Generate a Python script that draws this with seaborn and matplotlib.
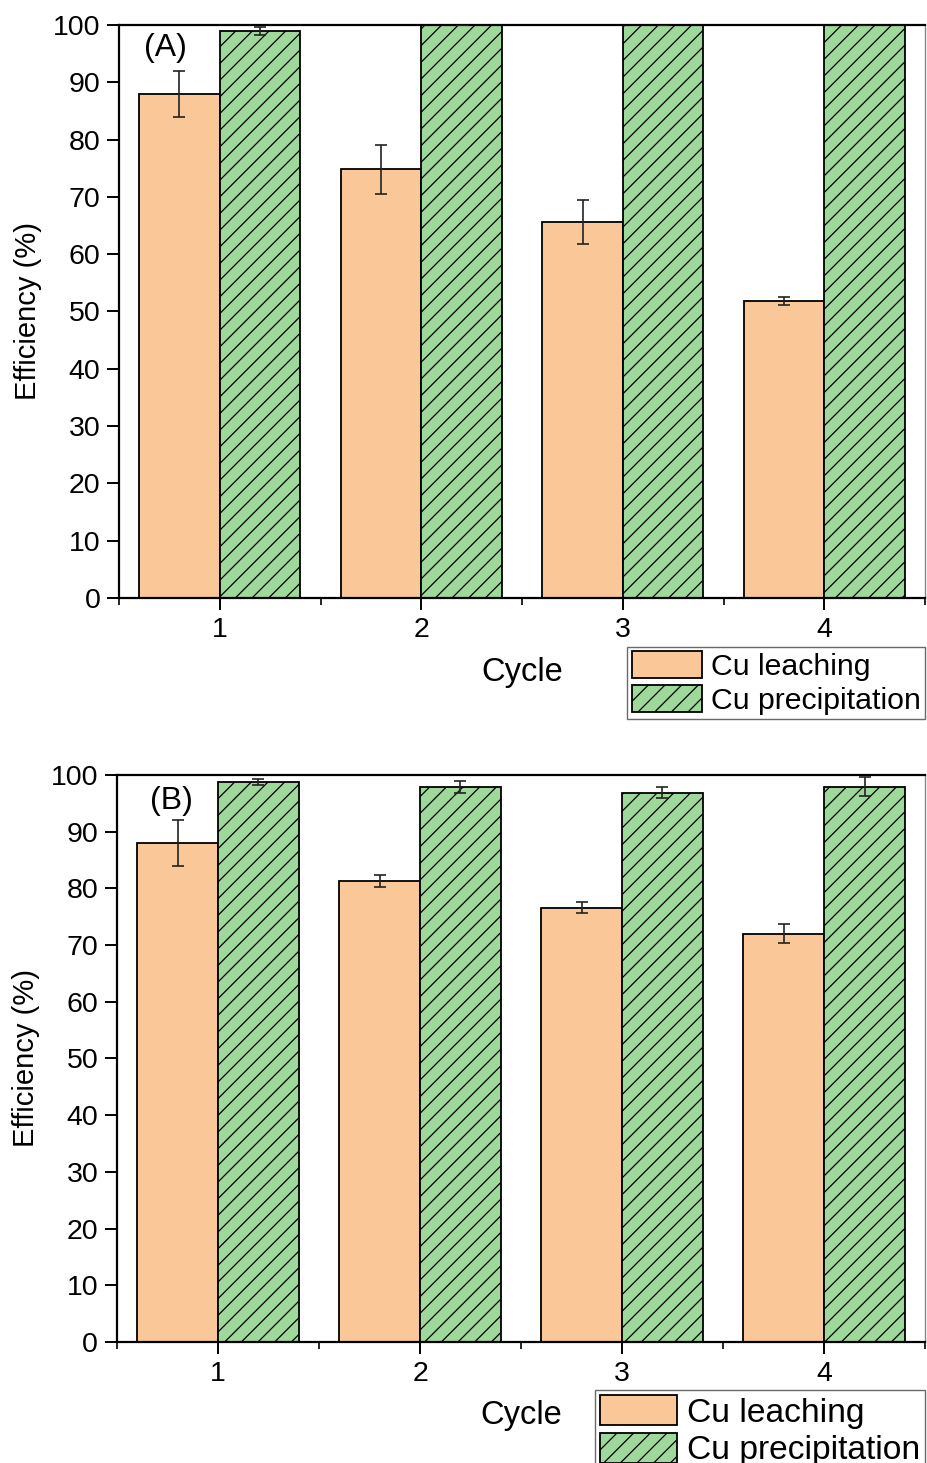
"""
Cu leaching / precipitation efficiency over 4 cycles, panels (A) and (B).
"""

import matplotlib
matplotlib.use("Agg")
import matplotlib.pyplot as plt
import pandas as pd
import seaborn as sns

# values
cycles = ["1", "2", "3", "4"]
series = ["Cu leaching", "Cu precipitation"]

leach_A = [88.0, 74.8, 65.6, 51.8]
leach_A_err = [4.0, 4.3, 3.9, 0.7]
precip_A = [99.0, 100.0, 100.0, 100.0]
precip_A_err = [0.7, 0.0, 0.0, 0.0]

leach_B = [88.0, 81.3, 76.6, 72.0]
leach_B_err = [4.0, 1.1, 0.95, 1.7]
precip_B = [98.8, 97.9, 96.9, 97.9]
precip_B_err = [0.5, 1.05, 0.95, 1.7]

colors = ["#FAC898", "#9ED89B"]

sns.set_theme(style="ticks")
plt.rcParams["font.family"] = ["Liberation Sans", "DejaVu Sans"]
plt.rcParams["text.color"] = "black"
plt.rcParams["axes.labelcolor"] = "black"
plt.rcParams["hatch.linewidth"] = 0.9
plt.rcParams["hatch.color"] = "black"


def make_df(leach, precip):
    return pd.DataFrame({
        "cycle": cycles * 2,
        "series": [series[0]] * 4 + [series[1]] * 4,
        "eff": leach + precip,
    })


def draw_panel(ax, leach, leach_err, precip, precip_err, tag, tag_xy, leg_size):
    df = make_df(leach, precip)
    sns.barplot(data=df, x="cycle", y="eff", hue="series", palette=colors,
                width=0.8, errorbar=None, legend=False, ax=ax,
                edgecolor="black", linewidth=1.3, saturation=1)
    bar_sets = list(ax.containers)
    errs = [leach_err, precip_err]
    vals = [leach, precip]
    for k, cont in enumerate(bar_sets):
        xs = []
        for bar in cont.patches:
            if k == 1:
                bar.set_hatch("//")
            xs.append(bar.get_x() + bar.get_width() / 2)
        ax.errorbar(xs, vals[k], yerr=errs[k], fmt="none", ecolor="#222222",
                    elinewidth=1.2, capsize=4.5, capthick=1.2, zorder=5)

    ax.set_xlim(-0.5, 3.5)
    ax.set_ylim(0, 100)
    ax.set_yticks(range(0, 101, 10))
    ax.set_xticks([-0.5, 0.5, 1.5, 2.5, 3.5], minor=True)
    ax.tick_params(axis="both", which="major", labelsize=20.5, length=8.5,
                   width=1.4, direction="out", pad=5, colors="black")
    ax.tick_params(axis="x", which="minor", length=5, width=1.4)
    for side in ["left", "bottom", "top"]:
        ax.spines[side].set_linewidth(1.6)
        ax.spines[side].set_color("black")
    ax.spines["right"].set_linewidth(1.0)
    ax.spines["right"].set_color("#888888")

    ax.set_xlabel("Cycle", fontsize=23.5, color="black")
    ax.set_ylabel("Efficiency (%)", fontsize=21, color="black")
    ax.xaxis.set_label_coords(0.5, -0.13)
    ax.xaxis.label.set_va("center")
    ax.yaxis.set_label_coords(-0.113, 0.5)
    ax.yaxis.label.set_va("center")

    ax.text(tag_xy[0], tag_xy[1], tag, transform=ax.transAxes,
            fontsize=23, ha="center", va="center", color="black")

    handles = [bar_sets[0].patches[0], bar_sets[1].patches[0]]
    leg = ax.legend(handles, series, loc="upper right",
                    bbox_to_anchor=(1.0, -0.085), fontsize=leg_size,
                    frameon=True, fancybox=False, edgecolor="#444444",
                    handlelength=2.3, handleheight=1.0, handletextpad=0.3,
                    labelspacing=0.12, borderpad=0.15, borderaxespad=0)
    leg.get_frame().set_linewidth(1.0)
    for t in leg.get_texts():
        t.set_color("black")


fig = plt.figure(figsize=(9.27, 14.63), dpi=100)
ax1 = fig.add_axes([0.1284, 0.5913, 0.8696, 0.3916])
ax2 = fig.add_axes([0.1262, 0.0827, 0.8718, 0.3876])

draw_panel(ax1, leach_A, leach_A_err, precip_A, precip_A_err, "(A)",
           (0.058, 0.96), 21.8)
draw_panel(ax2, leach_B, leach_B_err, precip_B, precip_B_err, "(B)",
           (0.067, 0.954), 24.2)

plt.savefig("out.png", dpi=100)
